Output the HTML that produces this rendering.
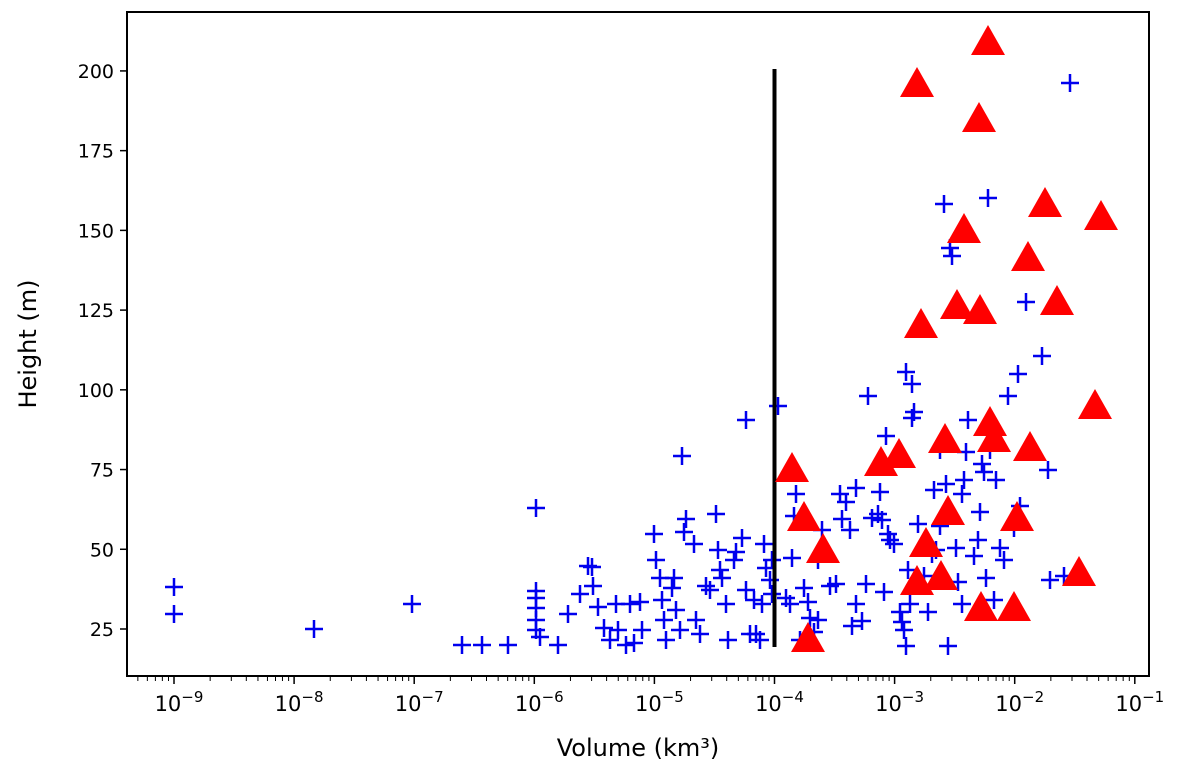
<!DOCTYPE html>
<html><head><meta charset="utf-8"><style>
html,body{margin:0;padding:0;background:#fff;}
svg{display:block;font-family:"DejaVu Sans","Liberation Sans",sans-serif;}
</style></head><body>
<svg id="s" width="1180" height="778" viewBox="0 0 1180 778" xmlns="http://www.w3.org/2000/svg">
<rect width="1180" height="778" fill="#fff"/>
<g id="pts"></g>
<line x1="774.5" y1="69" x2="774.5" y2="647" stroke="#000" stroke-width="4"/>
<g id="tri"></g>
<rect x="127" y="12" width="1022" height="664" fill="none" stroke="#000" stroke-width="2"/>
<g id="ticks" stroke="#000" stroke-width="1.5"></g>
<g id="labels" font-size="19" fill="#000"></g>
<text x="36" y="344" font-size="24" text-anchor="middle" transform="rotate(-90 36 344)">Height (m)</text>
<text x="638" y="756" font-size="24" text-anchor="middle">Volume (km³)</text>
</svg>
<script>
const NS="http://www.w3.org/2000/svg";
function el(p,t,a,txt){const e=document.createElementNS(NS,t);for(const k in a)e.setAttribute(k,a[k]);if(txt!==undefined)e.textContent=txt;p.appendChild(e);return e;}
const tri=[[917,85],[988,43],[979,120],[1045,205],[964,231],[1101,218],[1028,259],[1057,303],[921,326],[957,307],[980,312],[1095,407],[990,424],[994,440],[945,441],[1030,449],[899,456],[881,464],[792,470],[804,519],[948,513],[1017,519],[926,545],[823,551],[1079,574],[917,583],[941,578],[981,609],[1014,609],[808,640]];
const pl=[[174,587],[174,614],[314,629],[412,604],[536,508],[536,591],[536,598],[536,608],[536,620],[536,630],[540,637],[558,645],[462,645],[482,645],[508,645],[568,614],[580,594],[588,566],[592,567],[593,586],[598,607],[604,628],[610,640],[616,604],[618,630],[626,645],[630,604],[634,643],[640,602],[642,630],[654,534],[656,560],[660,578],[662,600],[664,620],[666,640],[672,588],[674,578],[676,610],[680,630],[682,456],[684,532],[686,519],[694,544],[696,620],[700,634],[706,586],[710,590],[716,514],[718,550],[720,570],[722,578],[726,604],[728,640],[734,560],[736,552],[742,538],[746,420],[746,590],[750,634],[754,600],[756,634],[760,640],[762,604],[764,544],[766,568],[770,580],[772,560],[772,594],[778,406],[786,598],[790,604],[792,558],[794,516],[796,494],[800,640],[804,588],[808,602],[810,618],[814,632],[818,620],[818,560],[822,530],[830,586],[836,584],[840,494],[842,519],[846,502],[850,530],[852,626],[856,604],[856,488],[862,621],[866,584],[868,396],[872,518],[878,514],[880,492],[882,520],[884,592],[886,436],[888,534],[890,540],[894,544],[900,612],[902,622],[904,630],[906,372],[906,646],[908,570],[910,604],[912,384],[912,418],[914,412],[918,524],[924,576],[928,612],[932,554],[934,490],[936,550],[940,526],[940,450],[944,204],[946,484],[950,248],[952,256],[956,548],[958,582],[962,604],[962,494],[964,480],[966,452],[968,420],[974,556],[978,540],[980,512],[982,464],[984,472],[986,578],[988,198],[990,450],[994,600],[996,480],[1000,548],[1004,560],[1008,396],[1014,528],[1018,374],[1020,506],[1026,302],[1042,356],[1048,470],[1050,580],[1064,576],[1070,83],[948,646]];
const P=document.getElementById('pts');
pl.forEach(([x,y])=>{el(P,'path',{d:`M${x-9} ${y}H${x+9}M${x} ${y-9}V${y+9}`,stroke:'#0000ee','stroke-width':2.5,fill:'none'});});
const T=document.getElementById('tri');
tri.forEach(([x,y])=>{el(T,'polygon',{points:`${x},${y-18} ${x-17},${y+12} ${x+17},${y+12}`,fill:'#ff0000'});});
const G=document.getElementById('ticks'),L=document.getElementById('labels');
for(let v=25;v<=200;v+=25){const y=629-(v-25)*3.189;el(G,'line',{x1:120,y1:y,x2:127,y2:y});el(L,'text',{x:114,y:y+7,'text-anchor':'end'},String(v));}
for(let e=-10;e<=-1;e++){
 const x0=174+(e+9)*120.1;
 if(e>=-9){el(G,'line',{x1:x0,y1:676,x2:x0,y2:684});
  const t=el(L,'text',{x:x0+5,y:711,'text-anchor':'middle','font-size':21});
  el(t,'tspan',{},'10');el(t,'tspan',{dy:-9,'font-size':15},'−'+(-e));}
 for(let m=2;m<=9;m++){const x=x0+Math.log10(m)*120.1;if(x>128&&x<1148)el(G,'line',{x1:x,y1:676,x2:x,y2:681,'stroke-width':1});}
}
</script>
</body></html>
